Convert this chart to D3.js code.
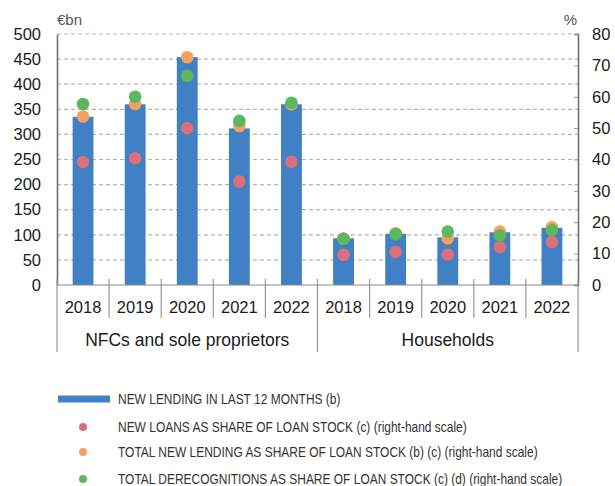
<!DOCTYPE html>
<html>
<head>
<meta charset="utf-8">
<script src="https://cdn.jsdelivr.net/npm/d3@7"></script>
<style>
  html, body { margin: 0; padding: 0; background: #fff; }
  svg { display: block; }
</style>
</head>
<body>
<svg id="chart" width="615" height="486"></svg>
<script>
// Categories: two sectors, five years each
const groups = ["NFCs and sole proprietors", "Households"];
const years = ["2018", "2019", "2020", "2021", "2022"];

// New lending in last 12 months, €bn (left scale)
const newLending = [335, 360, 454, 312, 360, 93, 102, 95, 105, 114];
// Shares of loan stock, % (right scale)
const newLoansShare = [39.2, 40.4, 50.0, 33.0, 39.3, 9.6, 10.6, 9.7, 12.1, 13.7];
const totalNewLendingShare = [53.7, 57.7, 72.6, 50.7, 57.6, 14.8, 16.5, 14.9, 17.0, 18.4];
const derecognitionsShare = [57.7, 60.0, 66.7, 52.3, 58.1, 14.7, 16.2, 17.0, 15.8, 17.5];

const leftTicks = [0, 50, 100, 150, 200, 250, 300, 350, 400, 450, 500];
const rightTicks = [0, 10, 20, 30, 40, 50, 60, 70, 80];

const legendItems = [
  { label: "NEW LENDING IN LAST 12 MONTHS (b)", type: "bar", color: "#4080c4" },
  { label: "NEW LOANS AS SHARE OF LOAN STOCK (c) (right-hand scale)", type: "dot", color: "#d9707c" },
  { label: "TOTAL NEW LENDING AS SHARE OF LOAN STOCK (b) (c) (right-hand scale)", type: "dot", color: "#f5a060" },
  { label: "TOTAL DERECOGNITIONS AS SHARE OF LOAN STOCK (c) (d) (right-hand scale)", type: "dot", color: "#5cb85f" }
];

const svg = d3.select("#chart");
const plotLeft = 57, plotRight = 578, plotTop = 34, plotBottom = 285;
const font = "'Liberation Sans', Arial, Helvetica, sans-serif";

// one slot per (group, year)
const keys = [];
groups.forEach((g, gi) => years.forEach(y => keys.push(gi + "-" + y)));

const x = d3.scaleBand().domain(keys).range([plotLeft, plotRight]).paddingInner(0.6).paddingOuter(0.3);
const yL = d3.scaleLinear().domain([0, 500]).range([plotBottom, plotTop]);
const yR = d3.scaleLinear().domain([0, 80]).range([plotBottom, plotTop]);

// dashed gridlines
svg.append("g")
  .selectAll("line").data(leftTicks.filter(t => t > 0)).join("line")
  .attr("x1", plotLeft).attr("x2", plotRight)
  .attr("y1", d => yL(d)).attr("y2", d => yL(d))
  .attr("stroke", "#b3b3b3").attr("stroke-width", 1.2)
  .attr("stroke-dasharray", "4,3");

// bars
svg.append("g")
  .selectAll("rect").data(newLending).join("rect")
  .attr("x", (d, i) => x(keys[i]))
  .attr("width", x.bandwidth())
  .attr("y", d => yL(d))
  .attr("height", d => yL(0) - yL(d))
  .attr("fill", "#4080c4");

// dots: pink, then orange, then green on top
const dotSeries = [
  { values: newLoansShare, color: legendItems[1].color },
  { values: totalNewLendingShare, color: legendItems[2].color },
  { values: derecognitionsShare, color: legendItems[3].color }
];
dotSeries.forEach(s => {
  svg.append("g")
    .selectAll("circle").data(s.values).join("circle")
    .attr("cx", (d, i) => x(keys[i]) + x.bandwidth() / 2)
    .attr("cy", d => yR(d))
    .attr("r", 6.3)
    .attr("fill", s.color);
});

// left axis
const axL = svg.append("g").attr("transform", `translate(${plotLeft},0)`)
  .call(d3.axisLeft(yL).tickValues(leftTicks).tickSize(0).tickPadding(16));
axL.select(".domain").attr("stroke", "#6d6e71").attr("stroke-width", 1.6);
axL.selectAll("text").attr("font-family", font).attr("font-size", 16.5).attr("fill", "#1a1a1a");

// right axis
const axR = svg.append("g").attr("transform", `translate(${plotRight},0)`)
  .call(d3.axisRight(yR).tickValues(rightTicks).tickSize(-4).tickPadding(14));
axR.select(".domain").attr("stroke", "#6d6e71").attr("stroke-width", 1.6);
axR.selectAll(".tick line").attr("stroke", "#9a9a9a");
axR.selectAll("text").attr("font-family", font).attr("font-size", 16.5).attr("fill", "#1a1a1a");

// baseline
svg.append("line")
  .attr("x1", plotLeft).attr("x2", plotRight).attr("y1", plotBottom).attr("y2", plotBottom)
  .attr("stroke", "#8a8a8a").attr("stroke-width", 1.2);

// unit labels
svg.append("text").attr("x", plotLeft).attr("y", 25).text("€bn")
  .attr("font-family", font).attr("font-size", 15).attr("fill", "#555");
svg.append("text").attr("x", plotRight - 1).attr("y", 25).attr("text-anchor", "end").text("%")
  .attr("font-family", font).attr("font-size", 15).attr("fill", "#555");

// category axis: year separators and labels
const sep = svg.append("g");
for (let i = 0; i <= keys.length; i++) {
  const xx = plotLeft + i * (plotRight - plotLeft) / keys.length;
  const isGroupEdge = i % years.length === 0;
  sep.append("line")
    .attr("x1", xx).attr("x2", xx)
    .attr("y1", 279).attr("y2", isGroupEdge ? 352 : 318)
    .attr("stroke", "#9a9a9a").attr("stroke-width", 1.2);
}
svg.append("g")
  .selectAll("text").data(keys).join("text")
  .attr("x", d => x(d) + x.bandwidth() / 2)
  .attr("y", 313)
  .attr("text-anchor", "middle")
  .attr("font-family", font).attr("font-size", 16.5).attr("fill", "#1a1a1a")
  .text(d => d.split("-")[1]);

svg.append("g")
  .selectAll("text").data(groups).join("text")
  .attr("x", (d, gi) => (x(keys[gi * 5]) + x(keys[gi * 5 + 4]) + x.bandwidth()) / 2)
  .attr("y", 346)
  .attr("text-anchor", "middle")
  .attr("font-family", font).attr("font-size", 17.5).attr("fill", "#1a1a1a")
  .text(d => d);

// legend (condensed lettering: text squeezed horizontally)
const legendY = [399, 427, 452, 479];
const legendTextX = 118;
const squeeze = 0.855;
const lg = svg.append("g");
legendItems.forEach((item, i) => {
  const cy = legendY[i];
  if (item.type === "bar") {
    lg.append("rect").attr("x", 58).attr("y", cy - 3.5).attr("width", 52).attr("height", 7).attr("fill", item.color);
  } else {
    lg.append("circle").attr("cx", 83).attr("cy", cy).attr("r", 4).attr("fill", item.color);
  }
  lg.append("text")
    .attr("transform", `translate(${legendTextX},${cy + 4.5}) scale(${squeeze},1)`)
    .attr("font-family", font).attr("font-size", 14).attr("fill", "#333")
    .text(item.label);
});
</script>
</body>
</html>
